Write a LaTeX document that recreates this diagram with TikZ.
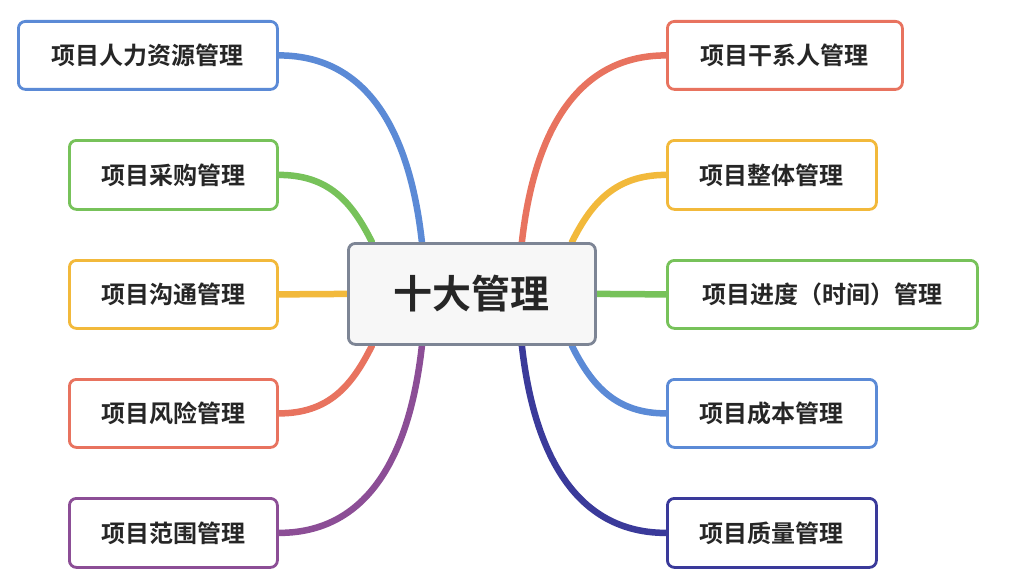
\documentclass[tikz,border=0pt]{standalone}
\usepackage{fontspec}
\newfontfamily\cjk[BoldFont={Noto Sans CJK SC Bold}]{Noto Sans CJK SC}
\usetikzlibrary{backgrounds}
\definecolor{cblue}{HTML}{5B8AD6}
\definecolor{cgreen}{HTML}{77C25A}
\definecolor{cyel}{HTML}{F2B93B}
\definecolor{cred}{HTML}{E8735F}
\definecolor{cpur}{HTML}{8C4E96}
\definecolor{cnavy}{HTML}{3A3A9A}
\definecolor{cgray}{HTML}{7D8595}
\tikzset{
 box/.style={draw=#1,line width=2.8pt,rounded corners=7pt,fill=white,anchor=north west,font=\cjk\bfseries\fontsize{24}{28}\selectfont,text=black!85,align=center,inner sep=0pt},
 link/.style={draw=#1,line width=6.5pt,line cap=round}
}
\begin{document}
\begin{tikzpicture}[x=1pt,y=-1pt]
\useasboundingbox (0,0) rectangle (1024,575);
\node[box=cgray,fill=gray!6,minimum width=247pt,minimum height=101pt,font=\cjk\bfseries\fontsize{39}{44}\selectfont] (c) at (347,242) {十大管理};
\node[box=cblue,minimum width=259pt,minimum height=68pt] (l1) at (17,20) {项目人力资源管理};
\node[box=cgreen,minimum width=208pt,minimum height=69pt] (l2) at (68,139) {项目采购管理};
\node[box=cyel,minimum width=208pt,minimum height=68pt] (l3) at (68,259) {项目沟通管理};
\node[box=cred,minimum width=208pt,minimum height=68pt] (l4) at (68,378) {项目风险管理};
\node[box=cpur,minimum width=208pt,minimum height=69pt] (l5) at (68,497) {项目范围管理};
\node[box=cred,minimum width=235pt,minimum height=68pt] (r1) at (666,20) {项目干系人管理};
\node[box=cyel,minimum width=209pt,minimum height=69pt] (r2) at (666,139) {项目整体管理};
\node[box=cgreen,minimum width=310pt,minimum height=68pt] (r3) at (666,259) {项目进度（时间）管理};
\node[box=cblue,minimum width=209pt,minimum height=68pt] (r4) at (666,378) {项目成本管理};
\node[box=cnavy,minimum width=209pt,minimum height=69pt] (r5) at (666,497) {项目质量管理};
\begin{pgfonlayer}{background}
\draw[link=cblue] (l1.east) .. controls +(100,0) and +(-10,-90) .. ([xshift=-50pt]c.north);
\draw[link=cgreen] (l2.east) .. controls +(50,0) and +(-20,-40) .. ([xshift=-100pt]c.north);
\draw[link=cyel] (l3.east) -- (c.west);
\draw[link=cred] (l4.east) .. controls +(50,0) and +(-20,40) .. ([xshift=-100pt]c.south);
\draw[link=cpur] (l5.east) .. controls +(100,0) and +(-10,90) .. ([xshift=-50pt]c.south);
\draw[link=cred] (r1.west) .. controls +(-100,0) and +(10,-90) .. ([xshift=50pt]c.north);
\draw[link=cyel] (r2.west) .. controls +(-50,0) and +(20,-40) .. ([xshift=100pt]c.north);
\draw[link=cgreen] (r3.west) -- (c.east);
\draw[link=cblue] (r4.west) .. controls +(-50,0) and +(20,40) .. ([xshift=100pt]c.south);
\draw[link=cnavy] (r5.west) .. controls +(-100,0) and +(10,90) .. ([xshift=50pt]c.south);
\end{pgfonlayer}
\end{tikzpicture}
\end{document}
